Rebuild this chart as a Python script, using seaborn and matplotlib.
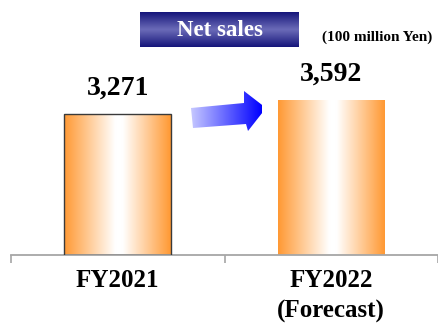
import numpy as np
import matplotlib
matplotlib.use("Agg")
import matplotlib.pyplot as plt
from matplotlib.colors import LinearSegmentedColormap
from matplotlib.patches import Polygon
import seaborn as sns

# Net sales, 100 million Yen
categories = ["FY2021", "FY2022\n(Forecast)"]
values = [3271, 3592]
value_labels = ["3,271", "3,592"]
title = "Net sales"
unit = "(100 million Yen)"

sns.set_style("white")
plt.rcParams["font.family"] = ["Liberation Serif", "DejaVu Serif"]
plt.rcParams["font.weight"] = "bold"
plt.rcParams["text.color"] = "black"
plt.rcParams["xtick.color"] = "black"
plt.rcParams["xtick.labelcolor"] = "black"

W, H = 438, 325
fig = plt.figure(figsize=(W / 100, H / 100), dpi=100)
ax = fig.add_axes([11 / W, (H - 255) / H, (W - 11) / W, 255 / H])

sns.barplot(x=categories, y=values, ax=ax, width=0.5, color="#ff9933",
            saturation=1, linewidth=0)

orange = "#ff9933"
bar_cmap = LinearSegmentedColormap.from_list(
    "bar", [(0, orange), (0.48, "#ffffff"), (0.55, "#ffffff"), (1, orange)])
grad = np.linspace(0, 1, 256).reshape(1, -1)

for i, patch in enumerate(ax.patches):
    x0, w, h = patch.get_x(), patch.get_width(), patch.get_height()
    im = ax.imshow(grad, cmap=bar_cmap, aspect="auto", extent=[x0, x0 + w, 0, h],
                   zorder=2, interpolation="bicubic")
    im.set_clip_path(patch)
    patch.set_facecolor("none")
    patch.set_zorder(3)
    if i == 0:
        patch.set_edgecolor("#3a3a3a")
        patch.set_linewidth(1.0)
    ax.annotate(value_labels[i], (x0 + w / 2, h), xytext=(0, 14),
                textcoords="offset points", ha="center", va="baseline",
                fontsize=20, fontweight="bold", color="black")

ax.set_xlim(-0.5, 1.5)
ax.set_ylim(0, 5915)
ax.set_yticks([])
for s in ["left", "right", "top"]:
    ax.spines[s].set_visible(False)
ax.spines["bottom"].set_color("#a6a6a6")
ax.spines["bottom"].set_linewidth(1.3)
ax.set_xticks([-0.5, 0.5, 1.5], minor=True)
ax.tick_params(axis="x", which="minor", length=6, width=1.2, color="#a6a6a6",
               direction="out", bottom=True)
ax.tick_params(axis="x", which="major", length=0, pad=10, labelsize=18,
               labelcolor="black")
for lbl in ax.get_xticklabels():
    lbl.set_fontweight("bold")
    lbl.set_linespacing(1.45)
ax.set_xlabel("")
ax.set_ylabel("")

# overlay in pixel coordinates for the header box and arrow
ov = fig.add_axes([0, 0, 1, 1], zorder=5)
ov.set_xlim(0, W)
ov.set_ylim(H, 0)
ov.axis("off")

box_cmap = LinearSegmentedColormap.from_list(
    "box", [(0, "#14147a"), (0.5, "#6b6bb8"), (1, "#14147a")])
vgrad = np.linspace(0, 1, 256).reshape(-1, 1)
ov.imshow(vgrad, cmap=box_cmap, aspect="auto", extent=[140, 299, 47, 12],
          interpolation="bicubic")
ov.text(219.5, 30, title, ha="center", va="center", color="white",
        fontsize=16.5, fontweight="bold")
ov.text(432, 37, unit, ha="right", va="center", color="black",
        fontsize=11, fontweight="bold")

arrow_pts = [(191, 108), (244, 103), (244, 91), (266, 108), (248, 131),
             (246, 124), (193, 128)]
arrow = Polygon(arrow_pts, closed=True, facecolor="none", edgecolor="none")
ov.add_patch(arrow)
arrow_cmap = LinearSegmentedColormap.from_list("arr", ["#c6c8ff", "#0000ff"])
aim = ov.imshow(grad, cmap=arrow_cmap, aspect="auto", extent=[191, 262, 132, 90],
                interpolation="bicubic")
aim.set_clip_path(arrow)
ov.set_xlim(0, W)
ov.set_ylim(H, 0)

fig.savefig("out.png", dpi=100, facecolor="white")
